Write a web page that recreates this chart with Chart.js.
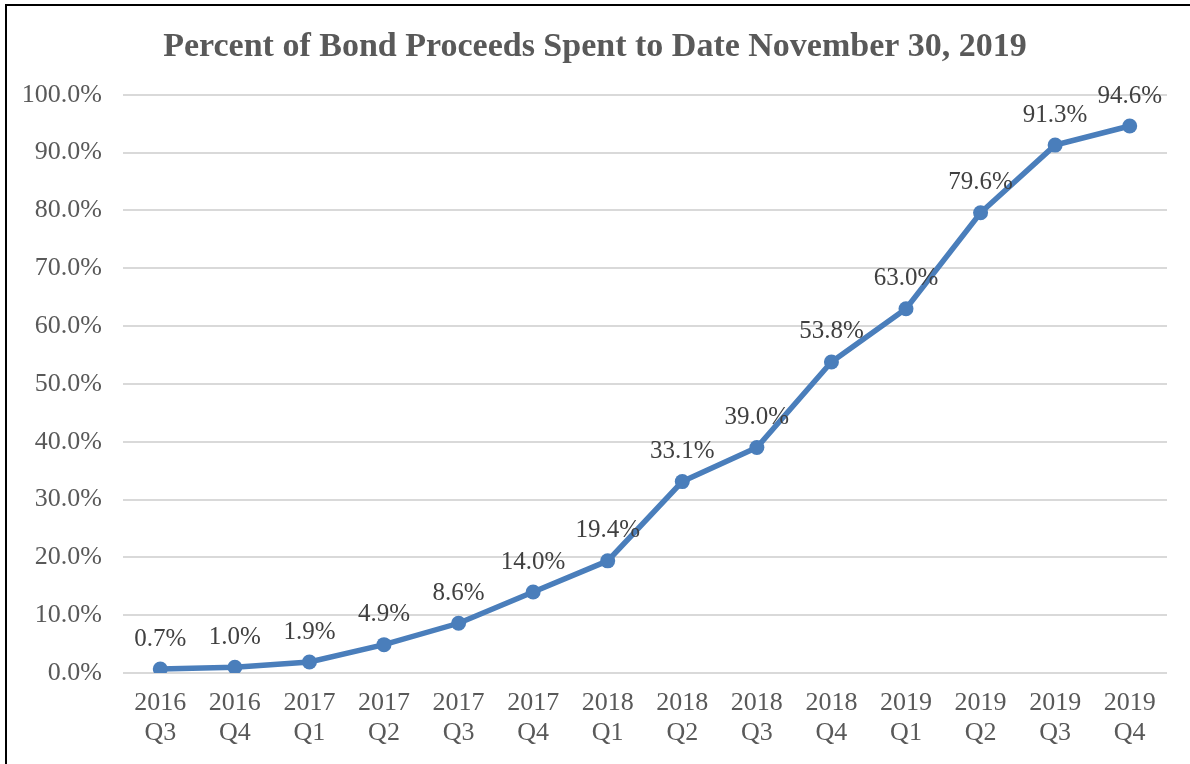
<!DOCTYPE html>
<html>
<head>
<meta charset="utf-8">
<script src="https://cdn.jsdelivr.net/npm/chart.js@4/dist/chart.umd.min.js"></script>
<style>
  html, body { margin: 0; padding: 0; background: #fff; }
  #wrap { position: relative; width: 1190px; height: 764px; overflow: hidden; }
  #frame { position: absolute; left: 5px; top: 4px; width: 1200px; height: 800px; border-left: 2px solid #000; border-top: 2px solid #000; box-sizing: border-box; pointer-events: none; }
  canvas { position: absolute; left: 0; top: 0; }
</style>
</head>
<body>
<div id="wrap">
  <canvas id="c" width="1190" height="764"></canvas>
  <div id="frame"></div>
</div>
<script>
const titleText = 'Percent of Bond Proceeds Spent to Date November 30, 2019';
const years = ['2016','2016','2017','2017','2017','2017','2018','2018','2018','2018','2019','2019','2019','2019'];
const quarters = ['Q3','Q4','Q1','Q2','Q3','Q4','Q1','Q2','Q3','Q4','Q1','Q2','Q3','Q4'];
const percentSpent = [0.7, 1.0, 1.9, 4.9, 8.6, 14.0, 19.4, 33.1, 39.0, 53.8, 63.0, 79.6, 91.3, 94.6];
const yTicks = [0, 10, 20, 30, 40, 50, 60, 70, 80, 90, 100];

const labels = years.map((y, i) => [y, quarters[i]]);
const serif = "'Liberation Serif', 'DejaVu Serif', serif";

const dataLabelPlugin = {
  id: 'dataLabels',
  afterDatasetsDraw(chart) {
    const ctx = chart.ctx;
    const meta = chart.getDatasetMeta(0);
    ctx.save();
    ctx.font = '25px ' + serif;
    ctx.fillStyle = '#404040';
    ctx.textAlign = 'center';
    ctx.textBaseline = 'middle';
    meta.data.forEach((pt, i) => {
      ctx.fillText(percentSpent[i].toFixed(1) + '%', pt.x, pt.y - 30);
    });
    ctx.restore();
  }
};

new Chart(document.getElementById('c'), {
  type: 'line',
  data: {
    labels: labels,
    datasets: [{
      data: percentSpent,
      borderColor: '#4a7ebb',
      backgroundColor: '#4a7ebb',
      borderWidth: 5.5,
      pointRadius: 7.5,
      pointHoverRadius: 7.5,
      pointBackgroundColor: '#4a7ebb',
      pointBorderColor: '#4a7ebb',
      pointBorderWidth: 0,
      tension: 0,
      fill: false
    }]
  },
  options: {
    responsive: false,
    animation: false,
    devicePixelRatio: 1,
    layout: { padding: { left: 23, right: 23, top: 0, bottom: 0 } },
    plugins: {
      legend: { display: false },
      tooltip: { enabled: false },
      title: {
        display: true,
        text: titleText,
        color: '#595959',
        font: { family: serif, size: 34, weight: 'bold', lineHeight: 1.2 },
        padding: { top: 27, bottom: 27 }
      }
    },
    scales: {
      x: {
        offset: true,
        grid: { display: false, drawTicks: false },
        border: { display: false },
        ticks: {
          color: '#595959',
          font: { family: serif, size: 26, lineHeight: 1.15 },
          padding: 15,
          maxRotation: 0,
          autoSkip: false
        },
        afterFit(scale) { scale.height = 91; }
      },
      y: {
        min: 0,
        max: 100,
        afterBuildTicks(scale) { scale.ticks = yTicks.map(v => ({ value: v })); },
        grid: { color: '#d9d9d9', lineWidth: 2, drawTicks: false },
        border: { display: false },
        ticks: {
          color: '#595959',
          font: { family: serif, size: 26 },
          padding: 21,
          callback: v => v.toFixed(1) + '%'
        },
        afterFit(scale) { scale.width = 100; }
      }
    }
  },
  plugins: [dataLabelPlugin]
});
</script>
</body>
</html>
